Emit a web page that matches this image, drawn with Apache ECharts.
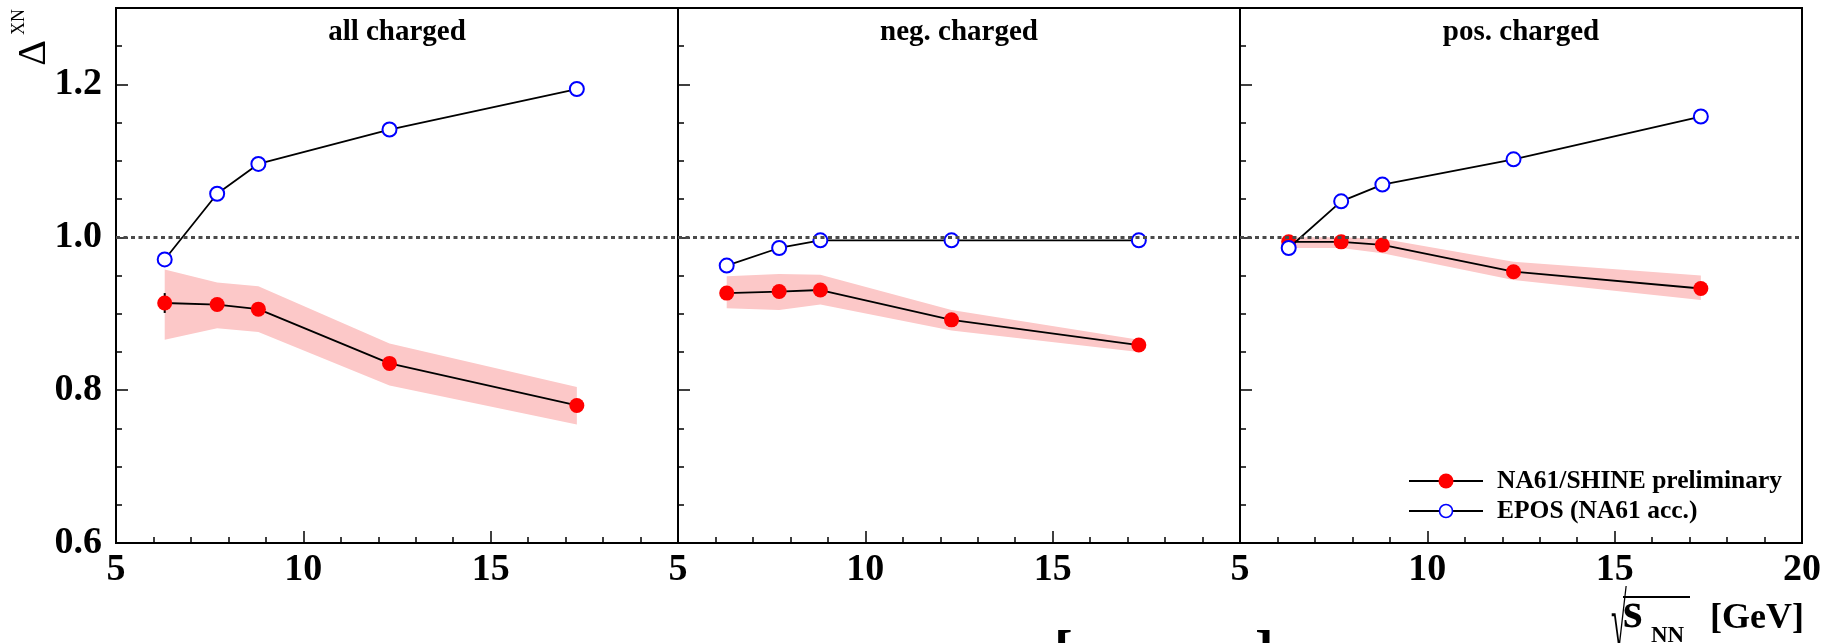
<!DOCTYPE html>
<html><head><meta charset="utf-8">
<script src="https://cdn.jsdelivr.net/npm/echarts@6/dist/echarts.min.js"></script>
<style>html,body{margin:0;padding:0;background:#fff}#c{width:1831px;height:643px}</style>
</head><body><div id="c"></div>
<script>
// ---- data ----
const energies = [6.3, 7.7, 8.8, 12.3, 17.3];
const panelTitles = ['all charged', 'neg. charged', 'pos. charged'];
const xTicks = [5, 10, 15, 20];
const yTicks = [0.6, 0.8, 1.0, 1.2];
const yMax = 1.3;

const na61All = [0.914, 0.912, 0.906, 0.835, 0.780];
const na61AllErr = [0.013, 0, 0, 0, 0];
const eposAll = [0.971, 1.057, 1.096, 1.141, 1.194];
const bandAllLo = [0.866, 0.881, 0.876, 0.806, 0.755];
const bandAllHi = [0.958, 0.941, 0.936, 0.861, 0.804];

const na61Neg = [0.927, 0.929, 0.931, 0.892, 0.859];
const eposNeg = [0.963, 0.986, 0.996, 0.996, 0.996];
const bandNegLo = [0.907, 0.905, 0.912, 0.878, 0.850];
const bandNegHi = [0.949, 0.952, 0.951, 0.905, 0.866];

const na61Pos = [0.994, 0.994, 0.990, 0.955, 0.933];
const eposPos = [0.986, 1.047, 1.069, 1.102, 1.158];
const bandPosLo = [0.986, 0.986, 0.979, 0.944, 0.918];
const bandPosHi = [1.000, 1.000, 0.998, 0.968, 0.950];

const refLevel = 1.0;
const nameData = 'NA61/SHINE preliminary';
const nameModel = 'EPOS (NA61 acc.)';

// ---- chart ----
const panels = [
  {na61: na61All, err: na61AllErr, epos: eposAll, lo: bandAllLo, hi: bandAllHi},
  {na61: na61Neg, err: null, epos: eposNeg, lo: bandNegLo, hi: bandNegHi},
  {na61: na61Pos, err: null, epos: eposPos, lo: bandPosLo, hi: bandPosHi}
];
const FONT = '"Liberation Serif", "DejaVu Serif", serif';
const GL = 116, GW = 562, GT = 8, GH = 535;
const xMin = xTicks[0], xMax = xTicks[xTicks.length - 1];
const yMin = yTicks[0];
const BAND = '#fcc8c8';

const grids = [], xAxes = [], yAxes = [], series = [], graphics = [];
const pts = arr => energies.map((x, i) => [x, arr[i]]);

panels.forEach((P, p) => {
  grids.push({left: GL + GW * p, top: GT, width: GW, height: GH, show: true,
    borderColor: '#000', borderWidth: 2, backgroundColor: 'transparent'});
  xAxes.push({type: 'value', gridIndex: p, min: xMin, max: xMax, interval: xTicks[1] - xTicks[0],
    axisLine: {show: true, onZero: false, lineStyle: {color: '#000', width: 2}},
    axisTick: {show: true, inside: true, length: 12, lineStyle: {color: '#000', width: 1.5}},
    minorTick: {show: true, splitNumber: 5, length: 6, lineStyle: {color: '#000', width: 1.5}},
    splitLine: {show: false},
    axisLabel: {show: true, margin: 8, fontFamily: FONT, fontWeight: 'bold', fontSize: 38, color: '#000',
      showMinLabel: true, showMaxLabel: p === 2,
      formatter: v => (p < 2 && v === xMax) ? '' : String(v)}
  });
  yAxes.push({type: 'value', gridIndex: p, position: 'left', min: yMin, max: yMax, interval: yTicks[1] - yTicks[0],
    axisLine: {show: true, onZero: false, lineStyle: {color: '#000', width: 2}},
    axisTick: {show: true, inside: true, length: 12, lineStyle: {color: '#000', width: 1.5}},
    splitLine: {show: false},
    axisLabel: {show: p === 0, margin: 14, fontFamily: FONT, fontWeight: 'bold', fontSize: 38, color: '#000',
      showMaxLabel: false, formatter: v => v.toFixed(1)}
  });
  yAxes.push({type: 'value', gridIndex: p, position: 'left', offset: 0, min: yMin, max: yMax, interval: 0.05,
    axisLine: {show: true, onZero: false, lineStyle: {color: '#000', width: 2}},
    axisLabel: {show: false}, splitLine: {show: false},
    axisTick: {show: true, inside: true, length: 6, lineStyle: {color: '#000', width: 1.5}}
  });
  const yi = 2 * p;
  // systematic band
  series.push({type: 'custom', xAxisIndex: p, yAxisIndex: yi, z: 1, silent: true, animation: false,
    data: energies.map((x, i) => [x, P.lo[i], P.hi[i]]),
    renderItem: (params, api) => {
      if (params.dataIndex !== 0) return {type: 'group', children: []};
      const n = energies.length, lower = [], upper = [];
      for (let i = 0; i < n; i++) {
        lower.push(api.coord([api.value(0, i), api.value(1, i)]));
        upper.push(api.coord([api.value(0, i), api.value(2, i)]));
      }
      return {type: 'polygon', shape: {points: lower.concat(upper.reverse())}, style: {fill: BAND}};
    }});
  if (P.err) {
    series.push({type: 'custom', xAxisIndex: p, yAxisIndex: yi, z: 2, animation: false,
      data: energies.map((x, i) => [x, P.na61[i] - P.err[i], P.na61[i] + P.err[i]]),
      renderItem: (params, api) => {
        const a = api.coord([api.value(0), api.value(1)]);
        const b = api.coord([api.value(0), api.value(2)]);
        return {type: 'line', shape: {x1: a[0], y1: a[1], x2: b[0], y2: b[1]}, style: {stroke: '#000', lineWidth: 2}};
      }});
  }
  series.push({type: 'line', name: nameData, xAxisIndex: p, yAxisIndex: yi, data: pts(P.na61),
    symbol: 'circle', symbolSize: 15, itemStyle: {color: '#ff0000'},
    lineStyle: {color: '#000', width: 1.8}, z: 3, animation: false,
    markLine: {silent: true, symbol: 'none', label: {show: false},
      lineStyle: {color: '#4a4a4a', width: 2.8, type: [4, 3.5]}, data: [{yAxis: refLevel}]}});
  series.push({type: 'line', name: nameModel, xAxisIndex: p, yAxisIndex: yi, data: pts(P.epos),
    symbol: 'emptyCircle', symbolSize: 14, itemStyle: {color: '#0000ff', borderWidth: 1.6},
    lineStyle: {color: '#000', width: 1.8}, z: 4, animation: false});
  graphics.push({type: 'text', x: GL + GW * p + GW / 2, y: 18, z: 10,
    style: {text: panelTitles[p], font: 'bold 29px ' + FONT, fill: '#000', textAlign: 'center', textVerticalAlign: 'top'}});
});

// legend (drawn with graphic elements)
const legendItems = [
  {name: nameData, y: 481, sym: {type: 'circle', shape: {cx: 1446, cy: 481, r: 7.5}, style: {fill: '#ff0000'}}},
  {name: nameModel, y: 511, sym: {type: 'circle', shape: {cx: 1446, cy: 511, r: 6.5}, style: {fill: '#fff', stroke: '#0000ff', lineWidth: 1.6}}}
];
legendItems.forEach(it => {
  graphics.push({type: 'line', z: 20, shape: {x1: 1409, y1: it.y, x2: 1483, y2: it.y}, style: {stroke: '#000', lineWidth: 1.8}});
  graphics.push(Object.assign({z: 21}, it.sym));
  graphics.push({type: 'text', z: 21, x: 1497, y: it.y,
    style: {text: it.name, font: 'bold 25.5px ' + FONT, fill: '#000', textAlign: 'left', textVerticalAlign: 'middle'}});
});

// axis titles
graphics.push({type: 'text', x: 34, y: 53, rotation: Math.PI / 2,
  style: {text: '\u0394', font: '40px ' + FONT, fill: '#000', textAlign: 'center', textVerticalAlign: 'middle'}});
graphics.push({type: 'text', x: 19, y: 22, rotation: Math.PI / 2,
  style: {text: 'XN', font: '18px ' + FONT, fill: '#000', textAlign: 'center', textVerticalAlign: 'middle'}});
graphics.push({type: 'text', x: 1611, y: 627, scaleX: 0.6, scaleY: 1.6,
  style: {text: '\u221A', font: '48px ' + FONT, fill: '#000', textAlign: 'left', textVerticalAlign: 'middle'}});
graphics.push({type: 'line', shape: {x1: 1623, y1: 597, x2: 1690, y2: 597}, style: {stroke: '#000', lineWidth: 2}});
graphics.push({type: 'text', x: 1623, y: 614,
  style: {text: 's', font: 'bold 50px ' + FONT, fill: '#000', textAlign: 'left', textVerticalAlign: 'middle'}});
graphics.push({type: 'text', x: 1651, y: 636,
  style: {text: 'NN', font: 'bold 23px ' + FONT, fill: '#000', textAlign: 'left', textVerticalAlign: 'middle'}});
graphics.push({type: 'text', x: 1710, y: 619,
  style: {text: '[GeV]', font: 'bold 36px ' + FONT, fill: '#000', textAlign: 'left', textVerticalAlign: 'middle'}});
// cropped brackets at the bottom edge
graphics.push({type: 'text', x: 1054, y: 656,
  style: {text: '[', font: 'bold 56px ' + FONT, fill: '#000', textAlign: 'left', textVerticalAlign: 'middle'}});
graphics.push({type: 'text', x: 1255, y: 656,
  style: {text: ']', font: 'bold 56px ' + FONT, fill: '#000', textAlign: 'left', textVerticalAlign: 'middle'}});

const chart = echarts.init(document.getElementById('c'), null, {renderer: 'canvas'});
chart.setOption({
  backgroundColor: '#fff',
  animation: false,
  grid: grids, xAxis: xAxes, yAxis: yAxes, series: series,
  graphic: graphics
});
</script></body></html>
